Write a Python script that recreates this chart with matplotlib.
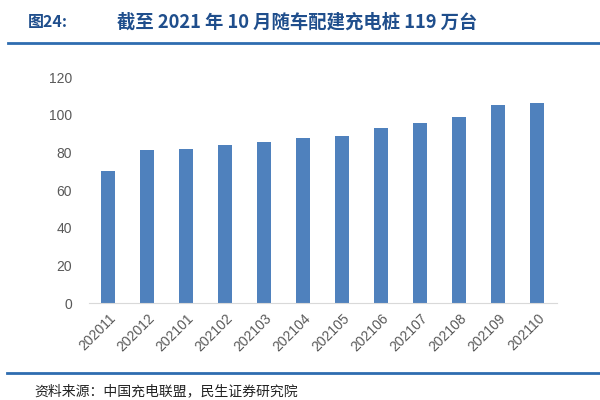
import matplotlib.pyplot as plt
from matplotlib.lines import Line2D

plt.rcParams['font.family'] = ['Liberation Sans', 'Noto Sans CJK SC', 'DejaVu Sans']

months = ['202011', '202012', '202101', '202102', '202103', '202104',
          '202105', '202106', '202107', '202108', '202109', '202110']
chargers = [70.0, 81.2, 81.8, 84.2, 85.7, 87.6, 88.9, 92.9, 95.6, 99.1, 105.3, 106.5]

fig = plt.figure(figsize=(6, 4), dpi=100)
ax = fig.add_axes([0.148, 0.242, 0.78, 0.565])

x = range(len(months))
ax.bar(x, chargers, width=0.35, color='#4f81bd', zorder=2)

ax.set_xlim(-0.5, len(months) - 0.5)
ax.set_ylim(0, 120)
ax.set_yticks(range(0, 121, 20))
ax.set_xticks(list(x))
ax.set_xticklabels(months, rotation=45, ha='right', rotation_mode='anchor')

for s in ['top', 'right', 'left']:
    ax.spines[s].set_visible(False)
ax.spines['bottom'].set_color('#d9d9d9')
ax.tick_params(axis='both', length=0, labelsize=10, colors='#595959')
ax.tick_params(axis='y', pad=12)
ax.tick_params(axis='x', pad=6)

# header
title_color = '#1f4e8c'
cjk = ['Noto Sans CJK SC', 'DejaVu Sans']
fig.text(0.047, 0.945, '图24:', fontsize=11.5, color=title_color,
         fontweight='bold', va='center', family=cjk)
fig.text(0.195, 0.945, '截至 2021 年 10 月随车配建充电桩 119 万台', fontsize=13.2,
         color=title_color, fontweight='bold', va='center', family=cjk)
fig.add_artist(Line2D([0.013, 1.0], [0.892, 0.892], color='#2e6cb0', lw=2,
                      transform=fig.transFigure))

# footer
fig.add_artist(Line2D([0.012, 1.0], [0.067, 0.067], color='#2e6cb0', lw=2,
                      transform=fig.transFigure))
fig.text(0.058, 0.004, '资料来源：中国充电联盟，民生证券研究院', fontsize=10,
         color='#222222', va='bottom', family=cjk)

plt.savefig('out.png', dpi=100)
